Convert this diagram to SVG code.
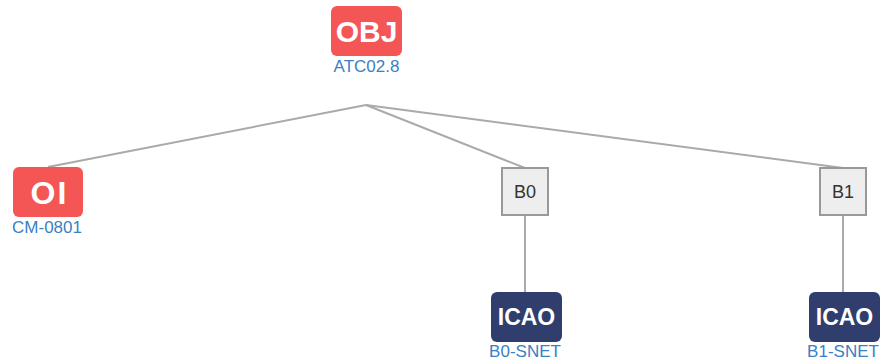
<svg xmlns="http://www.w3.org/2000/svg" width="882" height="360" viewBox="0 0 882 360">
<style>
.red{fill:#f45656}
.navy{fill:#2f3e6d}
.big{font-family:"Liberation Sans",Arial,sans-serif;font-weight:bold;fill:#fff;text-anchor:middle}
.lbl{font-family:"Liberation Sans",Arial,sans-serif;font-size:17px;fill:#3a80c3;text-anchor:middle}
.box{fill:#eeeeee;stroke:#999;stroke-width:2}
.btxt{font-family:"Liberation Sans",Arial,sans-serif;font-size:18px;fill:#333;text-anchor:middle}
.edge{stroke:#aaa;stroke-width:2;fill:none}
</style>
<rect width="882" height="360" fill="#fff"/>
<g id="connectors">
<line class="edge" x1="366" y1="105" x2="48" y2="167"/>
<line class="edge" x1="366" y1="105" x2="525" y2="168"/>
<line class="edge" x1="366" y1="105" x2="843" y2="168"/>
<line class="edge" x1="525" y1="215" x2="525" y2="292"/>
<line class="edge" x1="843" y1="215" x2="843" y2="292"/>
</g>
<g id="obj">
<rect class="red" x="331" y="6" width="71" height="50" rx="6"/>
<text class="big" x="366.5" y="42" font-size="30">OBJ</text>
<text class="lbl" x="366.5" y="72">ATC02.8</text>
</g>
<g id="oi">
<rect class="red" x="13" y="167" width="70" height="50" rx="6"/>
<text class="big" x="49.5" y="204" font-size="32" letter-spacing="2">OI</text>
<text class="lbl" x="47" y="233">CM-0801</text>
</g>
<g id="b0">
<rect class="box" x="502" y="168" width="46" height="47"/>
<text class="btxt" x="525" y="198">B0</text>
</g>
<g id="b1">
<rect class="box" x="820" y="168" width="46" height="47"/>
<text class="btxt" x="843" y="198">B1</text>
</g>
<g id="icao0">
<rect class="navy" x="491" y="292" width="71" height="50" rx="6"/>
<text class="big" x="526.5" y="325" font-size="23">ICAO</text>
<text class="lbl" x="525" y="357">B0-SNET</text>
</g>
<g id="icao1">
<rect class="navy" x="809" y="292" width="71" height="50" rx="6"/>
<text class="big" x="844.5" y="325" font-size="23">ICAO</text>
<text class="lbl" x="843" y="357">B1-SNET</text>
</g>
</svg>
